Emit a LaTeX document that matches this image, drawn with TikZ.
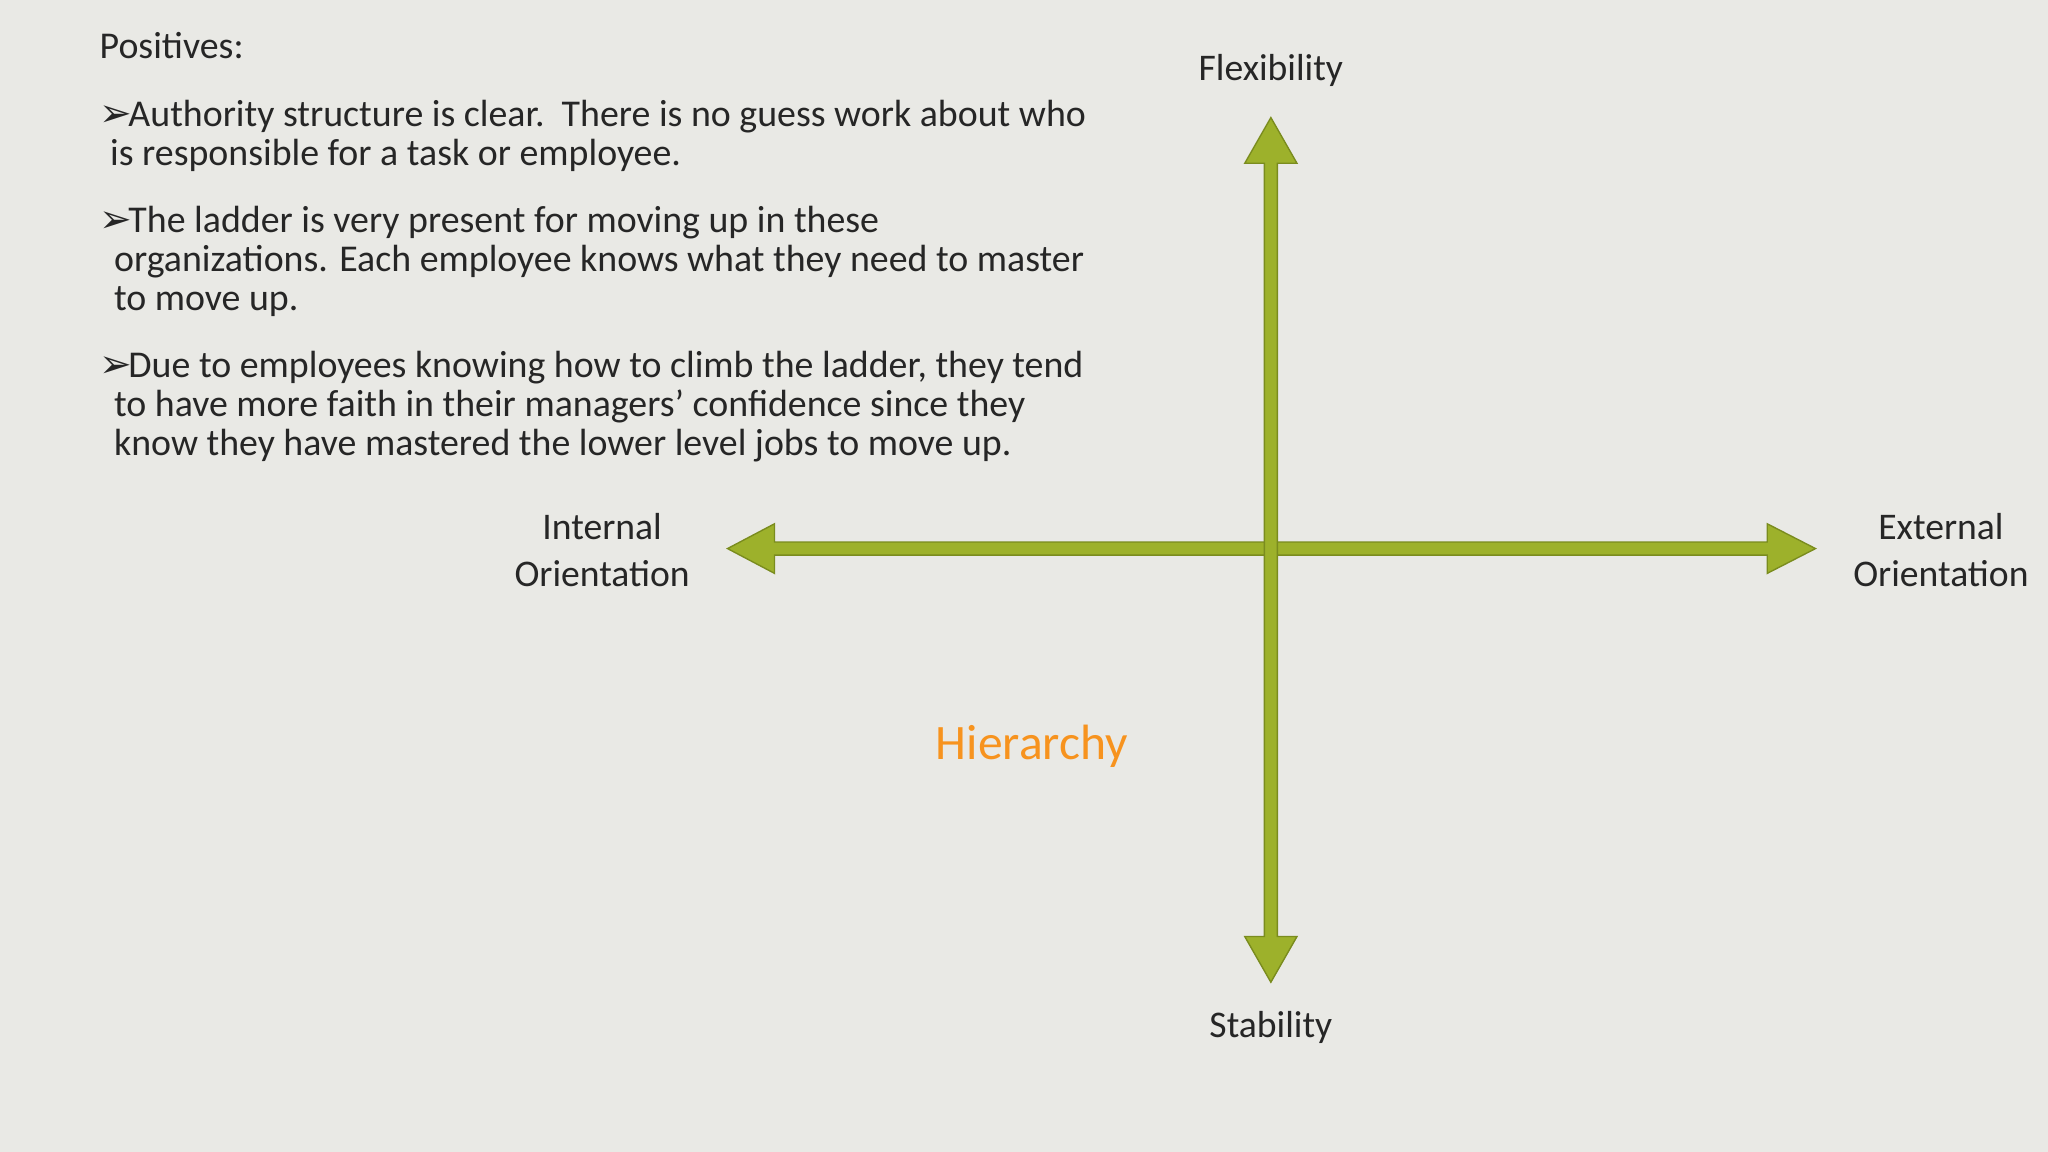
\documentclass[tikz,border=0pt]{standalone}
\usepackage{fontspec}
\setmainfont{Carlito}
\newfontfamily\symfont{DejaVu Sans}
\definecolor{bg}{HTML}{E9E9E5}
\definecolor{arrowfill}{HTML}{9DB12B}
\definecolor{arrowline}{HTML}{7A8C1E}
\definecolor{hier}{HTML}{F7931E}
\begin{document}
\begin{tikzpicture}[x=0.02cm,y=-0.02cm,
  txt/.style={anchor=base west,inner sep=0pt,font=\fontsize{16.5}{17}\selectfont,text=black!85},
  lbl/.style={inner sep=0pt,align=center,font=\fontsize{16.4}{20.5}\selectfont,text=black!85},
  blt/.style={anchor=base west,inner sep=0pt,font=\symfont\fontsize{17}{17}\selectfont,text=black!85},
  blockarrow/.style={fill=arrowfill,draw=arrowline,line width=0.6pt,line join=miter}]
\fill[bg] (0,0) rectangle (1568,882);
\useasboundingbox (0,0) rectangle (1568,882);
% arrows
\draw[blockarrow] (557,420) -- (593,401) -- (593,415) -- (1353,415) -- (1353,401) -- (1390,420) -- (1353,439) -- (1353,425) -- (593,425) -- (593,439) -- cycle;
\draw[blockarrow] (973,90) -- (993,125) -- (978,125) -- (978,717) -- (993,717) -- (973,752) -- (953,717) -- (968,717) -- (968,125) -- (953,125) -- cycle;
% text
\node[txt] (t0) at (76,45) {Positives:};
\node[blt] (b1) at (76,97) {➢};
\node[txt] (t1) at (98,97) {Authority structure is clear.\ \ There is no guess work about who};
\node[txt] (t2) at (84,127) {is responsible for a task or employee.};
\node[blt] (b2) at (76,178) {➢};
\node[txt] (t3) at (98,178) {The ladder is very present for moving up in these};
\node[txt] (t4) at (87,208) {organizations. Each employee knows what they need to master};
\node[txt] (t5) at (87,238) {to move up.};
\node[blt] (b3) at (76,289) {➢};
\node[txt] (t6) at (98,289) {Due to employees knowing how to climb the ladder, they tend};
\node[txt] (t7) at (87,319) {to have more faith in their managers’ confidence since they};
\node[txt] (t8) at (87,349) {know they have mastered the lower level jobs to move up.};
% labels
\node[lbl] (flex) at (973,54) {Flexibility};
\node[lbl] (stab) at (973,787) {Stability};
\node[lbl] (int) at (461,421) {Internal\\Orientation};
\node[lbl] (ext) at (1486,421) {External\\Orientation};
\node[inner sep=0pt,font=\fontsize{21.6}{22}\selectfont,text=hier] (h) at (790,571) {Hierarchy};
\end{tikzpicture}
\end{document}
